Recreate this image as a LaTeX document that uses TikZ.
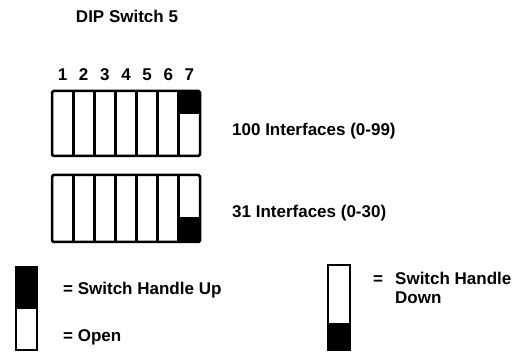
\documentclass[tikz,border=0pt]{standalone}
\usepackage{fontspec}
\setmainfont{Liberation Sans}
\tikzset{
	lbl/.style={font=\fontsize{17}{19}\selectfont\bfseries, inner sep=0pt},
	frame/.style={line width=2.5pt, rounded corners=1.5pt},
	divider/.style={line width=3pt},
}
\begin{document}
\begin{tikzpicture}[x=1pt,y=-1pt]
	\useasboundingbox (0,0) rectangle (516,352);
	\node[lbl] (title) at (127,16.5) {DIP Switch 5};
	% switch numbers
	\foreach \n in {1,...,7}
		\node[lbl] (num\n) at ({52+(\n-0.5)*21.14},74.5) {\n};
	% upper block
	\fill (178,91) rectangle (200,114);
	\draw[frame] (52,91) rectangle (200,156);
	\foreach \i in {1,...,6}
		\draw[divider] ({52+\i*21.14},91) -- ({52+\i*21.14},156);
	\node[lbl, anchor=west] (upper) at (232,131.5) {100 Interfaces (0-99)};
	% lower block
	\fill (178,217) rectangle (200,242);
	\draw[frame] (52,175) rectangle (200,242);
	\foreach \i in {1,...,6}
		\draw[divider] ({52+\i*21.14},175) -- ({52+\i*21.14},242);
	\node[lbl, anchor=west] (lower) at (232,213.5) {31 Interfaces (0-30)};
	% legend
	\fill (16,267) rectangle (37,309);
	\draw[line width=2pt] (16,267) rectangle (37,350);
	\node[lbl, anchor=west] (up) at (63,290) {= Switch Handle Up};
	\node[lbl, anchor=west] (open) at (63,337) {= Open};
	\fill (328,323) rectangle (350,350);
	\draw[line width=2pt] (328,265) rectangle (350,350);
	\node[lbl, anchor=base west] (eq) at (373,284) {=};
	\node[lbl, anchor=base west] (down) at (395,284) {Switch Handle};
	\node[lbl, anchor=base west] (down2) at (395,303) {Down};
\end{tikzpicture}
\end{document}
